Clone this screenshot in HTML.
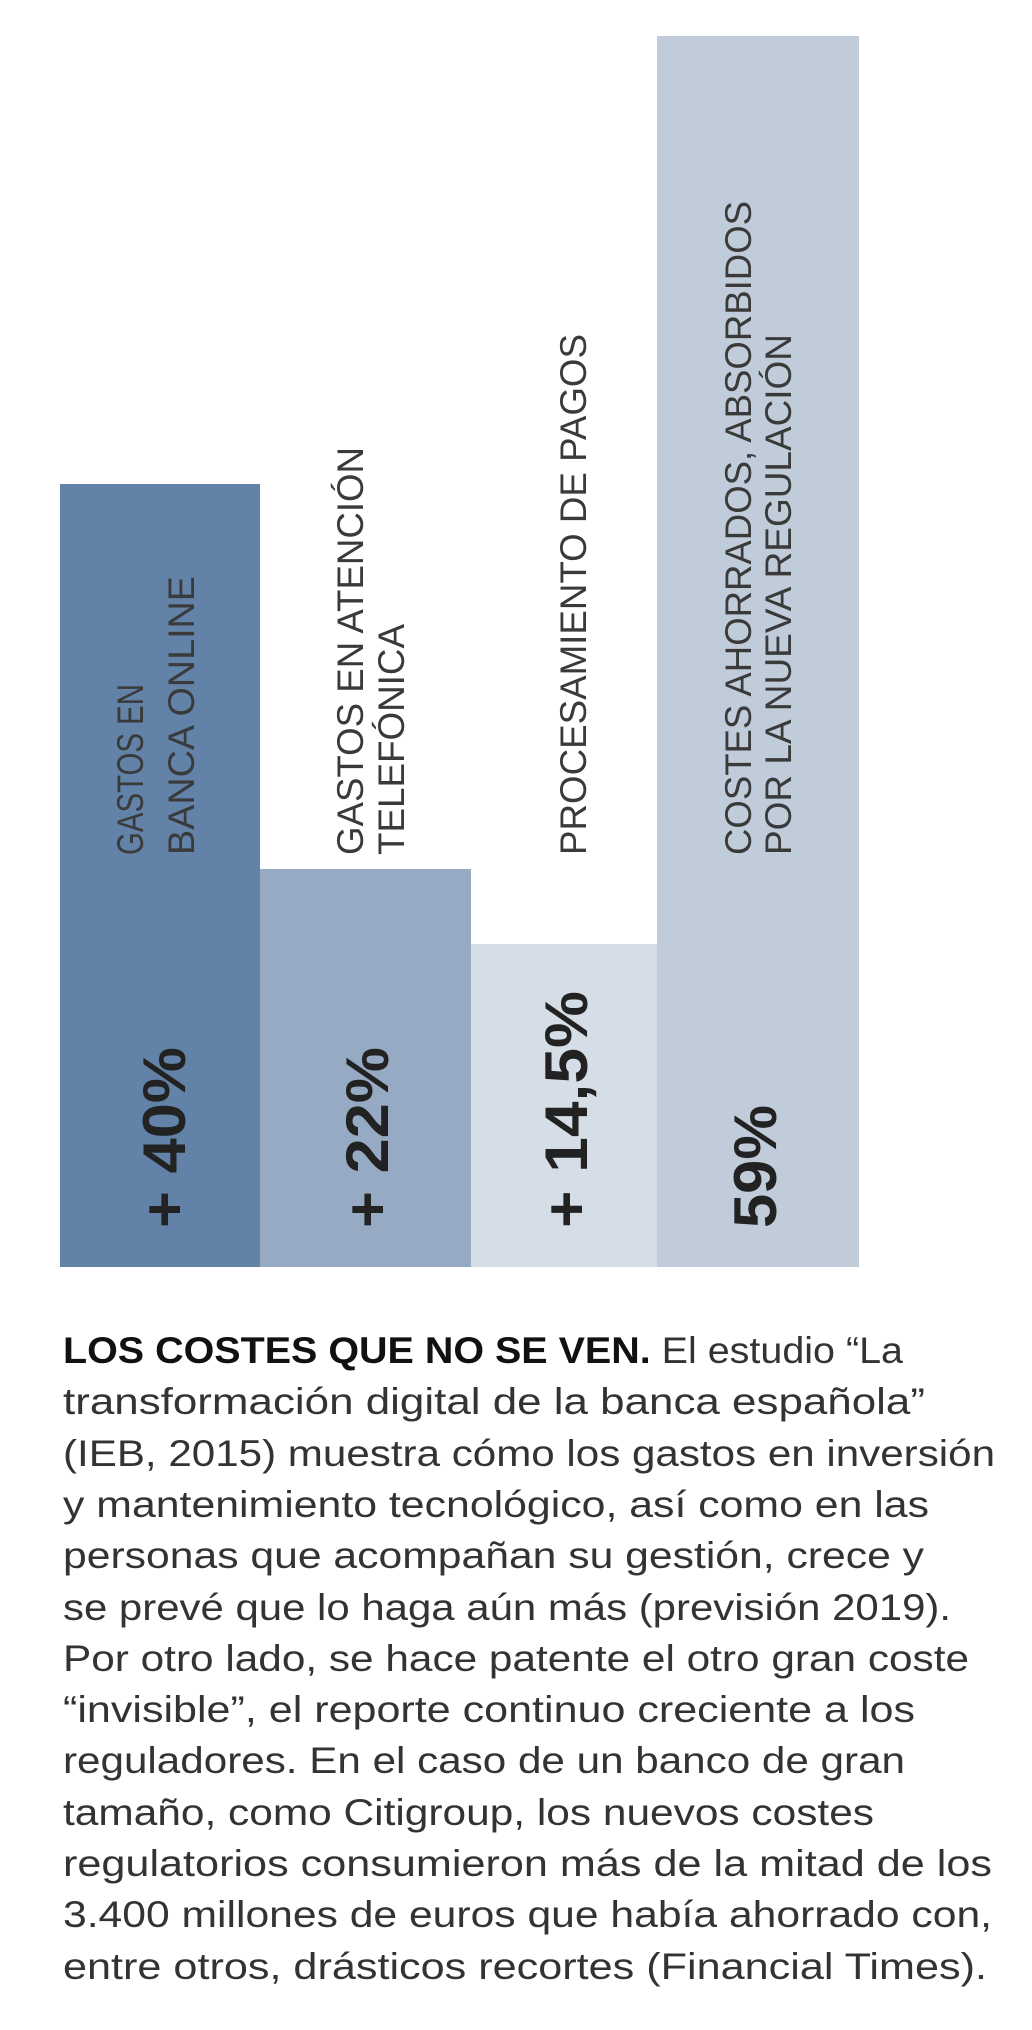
<!DOCTYPE html>
<html><head><meta charset="utf-8"><style>
html,body{margin:0;padding:0;background:#fff;width:1032px;height:2030px;overflow:hidden}
svg{display:block}
.l{font-family:"Liberation Sans",sans-serif;font-size:37px;fill:#3a3a3a}
.n{font-family:"Liberation Sans",sans-serif;font-size:60px;font-weight:bold;fill:#222}
.p{font-family:"Liberation Sans",sans-serif;font-size:37px;fill:#333}
</style></head><body>
<svg width="1032" height="2030" xmlns="http://www.w3.org/2000/svg">
<rect x="60" y="484" width="200" height="783" fill="#6282a8"/>
<rect x="260" y="869" width="211" height="398" fill="#96abc3"/>
<rect x="471" y="944" width="186" height="323" fill="#d5dde6"/>
<rect x="657" y="36" width="202" height="1231" fill="#c0ccda"/>

<text class="l" transform="translate(143,855) rotate(-90)" textLength="171" lengthAdjust="spacingAndGlyphs">GASTOS EN</text>
<text class="l" transform="translate(194,855) rotate(-90)" textLength="279" lengthAdjust="spacingAndGlyphs">BANCA ONLINE</text>
<text class="l" transform="translate(363,855) rotate(-90)" textLength="408" lengthAdjust="spacingAndGlyphs">GASTOS EN ATENCIÓN</text>
<text class="l" transform="translate(404,855) rotate(-90)" textLength="231" lengthAdjust="spacingAndGlyphs">TELEFÓNICA</text>
<text class="l" transform="translate(586,855) rotate(-90)" textLength="521" lengthAdjust="spacingAndGlyphs">PROCESAMIENTO DE PAGOS</text>
<text class="l" transform="translate(751,855) rotate(-90)" textLength="654" lengthAdjust="spacingAndGlyphs">COSTES AHORRADOS, ABSORBIDOS</text>
<text class="l" transform="translate(791,855) rotate(-90)" textLength="521" lengthAdjust="spacingAndGlyphs">POR LA NUEVA REGULACIÓN</text>

<text class="n" transform="translate(185,1228) rotate(-90)" textLength="181" lengthAdjust="spacingAndGlyphs">+ 40%</text>
<text class="n" transform="translate(388,1228) rotate(-90)" textLength="181" lengthAdjust="spacingAndGlyphs">+ 22%</text>
<text class="n" transform="translate(587,1228) rotate(-90)" textLength="237" lengthAdjust="spacingAndGlyphs">+ 14,5%</text>
<text class="n" transform="translate(776,1228) rotate(-90)" textLength="123" lengthAdjust="spacingAndGlyphs">59%</text>

<text class="p" x="63" y="1363" textLength="840" lengthAdjust="spacingAndGlyphs"><tspan font-weight="bold" fill="#111">LOS COSTES QUE NO SE VEN.</tspan> El estudio “La</text>
<text class="p" x="63" y="1414" textLength="862" lengthAdjust="spacingAndGlyphs">transformación digital de la banca española”</text>
<text class="p" x="63" y="1466" textLength="932" lengthAdjust="spacingAndGlyphs">(IEB, 2015) muestra cómo los gastos en inversión</text>
<text class="p" x="63" y="1517" textLength="866" lengthAdjust="spacingAndGlyphs">y mantenimiento tecnológico, así como en las</text>
<text class="p" x="63" y="1568" textLength="861" lengthAdjust="spacingAndGlyphs">personas que acompañan su gestión, crece y</text>
<text class="p" x="63" y="1620" textLength="888" lengthAdjust="spacingAndGlyphs">se prevé que lo haga aún más (previsión 2019).</text>
<text class="p" x="63" y="1671" textLength="906" lengthAdjust="spacingAndGlyphs">Por otro lado, se hace patente el otro gran coste</text>
<text class="p" x="63" y="1722" textLength="852" lengthAdjust="spacingAndGlyphs">“invisible”, el reporte continuo creciente a los</text>
<text class="p" x="63" y="1773" textLength="842" lengthAdjust="spacingAndGlyphs">reguladores. En el caso de un banco de gran</text>
<text class="p" x="63" y="1825" textLength="811" lengthAdjust="spacingAndGlyphs">tamaño, como Citigroup, los nuevos costes</text>
<text class="p" x="63" y="1876" textLength="929" lengthAdjust="spacingAndGlyphs">regulatorios consumieron más de la mitad de los</text>
<text class="p" x="63" y="1927" textLength="929" lengthAdjust="spacingAndGlyphs">3.400 millones de euros que había ahorrado con,</text>
<text class="p" x="63" y="1979" textLength="924" lengthAdjust="spacingAndGlyphs">entre otros, drásticos recortes (Financial Times).</text>
</svg>
</body></html>
